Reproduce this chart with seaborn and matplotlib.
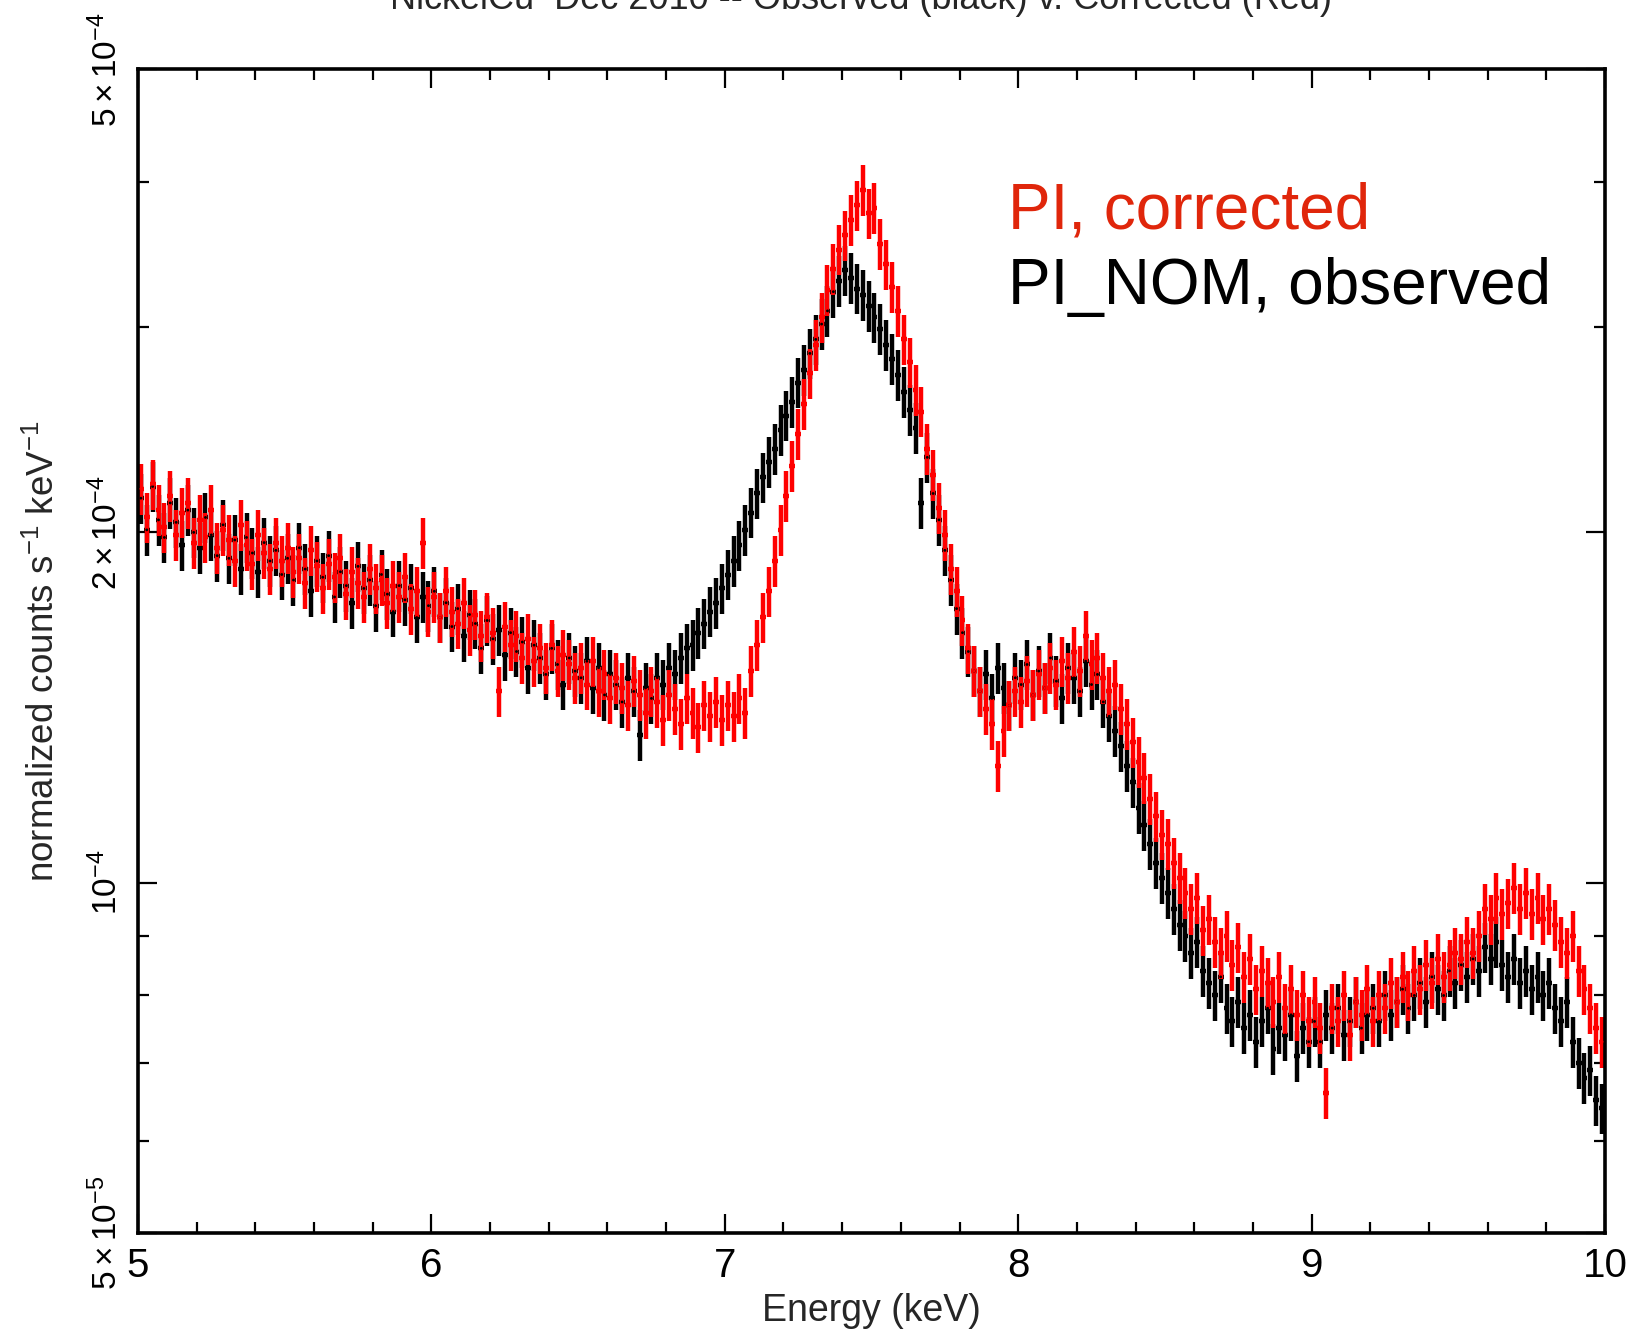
import numpy as np
import pandas as pd
import matplotlib
matplotlib.use("Agg")
import matplotlib.pyplot as plt
import seaborn as sns
from matplotlib.ticker import FixedLocator, NullFormatter, FixedFormatter

# ---------------- data (units of 1e-5 counts s^-1 keV^-1) ----------------
bin_start = 5.0      # keV, lower edge of first bin
bin_width = 0.02     # keV

observed = [
    # 5.0 - 5.5
    21.4, 20.1, 21.9, 20.5, 19.8, 21.2, 20.4, 19.5, 20.9, 20.0, 19.4, 20.6, 19.9,
    19.1, 20.3, 19.0, 19.7, 18.6, 19.8, 19.2, 18.5, 19.6, 18.9, 19.3, 18.4,
    # 5.5 - 6.0
    19.0, 18.2, 19.4, 18.6, 17.8, 18.9, 18.3, 19.1, 17.6, 18.5, 18.0, 17.4, 18.7,
    17.9, 18.2, 17.3, 18.4, 17.7, 17.1, 18.0, 17.5, 17.9, 16.9, 17.6, 17.3,
    # 6.0 - 6.5
    17.8, 16.9, 17.4, 16.6, 17.2, 16.3, 17.0, 16.7, 15.9, 16.8, 16.2, 16.5, 15.7,
    16.4, 15.8, 16.1, 15.3, 16.0, 15.6, 15.1, 15.9, 15.4, 14.8, 15.6, 15.2,
    # 6.5 - 7.0
    15.0, 15.5, 14.7, 15.3, 14.5, 15.1, 14.8, 14.3, 15.0, 14.6, 13.4, 14.7, 14.4,
    15.0, 14.8, 15.3, 15.1, 15.6, 15.9, 16.0, 16.4, 16.7, 17.1, 17.4, 17.9,
    # 7.0 - 7.5
    18.4, 18.9, 19.5, 20.1, 20.8, 21.6, 22.3, 23.0, 23.6, 24.5, 25.2, 25.9, 26.9,
    27.6, 28.5, 29.3, 30.2, 31.0, 32.2, 32.9, 33.6, 33.1, 32.4, 32.0, 31.3,
    # 7.5 - 8.0
    30.6, 29.9, 29.0, 28.2, 27.3, 26.4, 25.5, 24.6, 21.2, 23.2, 21.6, 20.5, 19.3,
    18.2, 17.2, 16.4, 15.8, 15.2, 14.6, 15.1, 14.4, 15.3, 14.7, 14.2, 15.0,
    # 8.0 - 8.5
    14.8, 15.4, 14.5, 15.2, 14.7, 15.6, 14.9, 14.4, 15.3, 15.0, 14.6, 15.5, 14.8,
    15.1, 14.3, 13.9, 13.5, 13.1, 12.6, 12.2, 11.6, 11.2, 10.8, 10.4, 10.1,
    # 8.5 - 9.0
    9.8, 9.5, 9.2, 9.0, 8.7, 8.9, 8.4, 8.2, 8.0, 8.3, 7.8, 7.6, 7.9,
    7.5, 7.7, 7.3, 7.6, 7.8, 7.2, 7.5, 7.4, 7.7, 7.1, 7.5, 7.3,
    # 9.0 - 9.5
    7.6, 7.3, 7.7, 7.5, 7.8, 7.4, 7.6, 7.9, 7.5, 7.7, 7.8, 7.6, 8.0,
    7.7, 7.9, 8.1, 7.8, 8.0, 8.2, 7.9, 8.3, 8.1, 8.0, 8.4, 8.2,
    # 9.5 - 10.0
    8.5, 8.3, 8.6, 8.4, 8.8, 8.6, 8.9, 8.5, 8.3, 8.6, 8.2, 8.4, 8.1,
    8.3, 8.0, 8.2, 7.8, 7.6, 7.9, 7.3, 7.0, 6.8, 6.9, 6.5, 6.4,
]

corrected = [
    # 5.0 - 5.5
    21.8, 20.6, 22.0, 20.9, 20.2, 21.5, 19.9, 20.8, 21.2, 19.6, 20.5, 19.8, 20.9,
    19.4, 20.1, 19.7, 18.9, 20.3, 19.5, 18.8, 19.9, 19.2, 18.6, 19.6, 18.9,
    # 5.5 - 6.0
    19.4, 18.5, 19.0, 18.1, 19.3, 18.7, 17.9, 18.8, 18.3, 19.0, 17.7, 18.5, 18.1,
    17.6, 18.6, 17.9, 18.2, 17.4, 18.0, 17.6, 18.3, 17.2, 17.8, 19.6, 17.1,
    # 6.0 - 6.5
    17.6, 16.9, 17.8, 17.1, 16.7, 17.4, 16.5, 17.0, 16.3, 16.9, 16.4, 14.6, 16.6,
    16.0, 16.3, 15.6, 16.2, 15.5, 15.9, 15.3, 16.0, 15.2, 15.7, 15.4, 15.0,
    # 6.5 - 7.0
    15.3, 14.8, 15.5, 14.6, 15.1, 14.4, 15.0, 14.7, 14.2, 14.9, 14.5, 14.0, 14.6,
    14.3, 13.8, 14.5, 14.1, 13.7, 14.4, 14.0, 13.6, 14.2, 13.9, 14.3, 13.8,
    # 7.0 - 7.5
    14.2, 13.9, 14.4, 14.0, 15.2, 16.0, 16.9, 17.8, 18.9, 20.1, 21.5, 22.8, 24.3,
    25.8, 27.4, 29.0, 30.6, 32.3, 33.7, 35.0, 36.0, 37.1, 38.2, 39.4, 37.6,
    # 7.5 - 8.0
    38.0, 35.4, 34.0, 32.5, 31.0, 29.3, 28.0, 26.5, 25.4, 23.6, 22.4, 21.0, 19.9,
    18.6, 17.8, 16.8, 15.9, 15.2, 14.6, 14.1, 13.7, 12.6, 13.5, 14.2, 14.6,
    # 8.0 - 8.5
    14.3, 14.9, 14.5, 15.1, 14.7, 15.3, 14.8, 15.5, 15.0, 15.8, 15.2, 16.3, 15.4,
    15.6, 15.0, 14.6, 14.8, 14.1, 13.7, 13.2, 12.7, 12.3, 11.8, 11.4, 11.0,
    # 8.5 - 9.0
    10.8, 10.4, 10.1, 9.8, 9.5, 9.7, 9.1, 9.3, 8.9, 8.7, 9.0, 8.5, 8.8,
    8.3, 8.6, 8.1, 8.4, 8.2, 7.9, 8.3, 7.8, 8.1, 7.7, 8.0, 7.6,
    # 9.0 - 9.5
    7.9, 7.5, 6.6, 7.8, 7.6, 8.0, 7.4, 7.9, 7.7, 8.1, 7.6, 8.0, 7.8,
    8.2, 7.9, 8.3, 8.0, 8.4, 8.1, 8.5, 8.2, 8.6, 8.3, 8.5, 8.7,
    # 9.5 - 10.0
    8.6, 8.9, 8.7, 9.0, 9.5, 9.3, 9.7, 9.4, 9.6, 9.9, 9.5, 9.8, 9.4,
    9.7, 9.3, 9.5, 9.2, 8.9, 8.7, 9.0, 8.4, 8.1, 7.8, 7.5, 7.3,
]

rel_err = 0.05   # fractional 1-sigma error of each bin

x_ticks = [5, 6, 7, 8, 9, 10]
x_ticklabels = ["5", "6", "7", "8", "9", "10"]
y_ticks = [5e-5, 1e-4, 2e-4, 5e-4]
y_ticklabels = [r"$5\times10^{-5}$", r"$10^{-4}$", r"$2\times10^{-4}$", r"$5\times10^{-4}$"]
y_minor = [6e-5, 7e-5, 8e-5, 9e-5, 3e-4, 4e-4]

title = "NickelCu  Dec 2010 -- Observed (black) v. Corrected (Red)"
label_red = "PI, corrected"
label_black = "PI_NOM, observed"

# ---------------- build table ----------------
n = len(observed)
energy = bin_start + bin_width * (np.arange(n) + 0.5)
df = pd.concat([
    pd.DataFrame({"energy": energy, "flux": np.array(observed) * 1e-5, "set": "observed"}),
    pd.DataFrame({"energy": energy, "flux": np.array(corrected) * 1e-5, "set": "corrected"}),
], ignore_index=True)

sns.set_theme(style="ticks")
fam = ["Liberation Sans", "DejaVu Sans"]
plt.rcParams["font.family"] = fam
plt.rcParams["mathtext.fontset"] = "custom"
plt.rcParams["mathtext.rm"] = "Liberation Sans"
plt.rcParams["mathtext.it"] = "Liberation Sans"
plt.rcParams["mathtext.default"] = "regular"

fig = plt.figure(figsize=(16.27, 13.32), dpi=100)
ax = fig.add_axes([0.0848, 0.0743, 0.9017, 0.8737])

colors = {"observed": "#000000", "corrected": "#ff0000"}
for key in ["observed", "corrected"]:
    d = df[df["set"] == key]
    ax.errorbar(d["energy"], d["flux"], xerr=bin_width / 2, yerr=d["flux"] * rel_err,
                fmt="none", ecolor=colors[key], elinewidth=3.2, capsize=0, zorder=2)
sns.scatterplot(data=df, x="energy", y="flux", hue="set", palette=colors,
                s=4, linewidth=0, legend=False, ax=ax, zorder=3)

ax.set_yscale("log")
ax.set_xlim(5, 10)
ax.set_ylim(5e-5, 5e-4)

ax.xaxis.set_major_locator(FixedLocator(x_ticks))
ax.xaxis.set_major_formatter(FixedFormatter(x_ticklabels))
ax.xaxis.set_minor_locator(FixedLocator(np.arange(5, 10.01, 0.2)))
ax.yaxis.set_major_locator(FixedLocator(y_ticks))
ax.yaxis.set_major_formatter(FixedFormatter(y_ticklabels))
ax.yaxis.set_minor_locator(FixedLocator(y_minor))
ax.yaxis.set_minor_formatter(NullFormatter())

ax.tick_params(which="both", direction="in", top=True, right=True, width=1.6, colors="black")
ax.tick_params(which="major", length=14)
ax.tick_params(which="minor", length=8)
ax.tick_params(axis="x", labelsize=29, pad=10)
ax.tick_params(axis="y", labelsize=24, pad=10)
for lab in ax.get_yticklabels():
    lab.set_rotation(90)
    lab.set_va("center")
for sp in ax.spines.values():
    sp.set_linewidth(2.6)
    sp.set_color("black")

ax.set_xlabel("Energy (keV)", fontsize=27, labelpad=6)
ax.set_ylabel(r"normalized counts s$^{-1}$ keV$^{-1}$", fontsize=26.5, labelpad=20)

fig.text(0.529, 1 - 9 / 1332, title, ha="center", va="baseline", fontsize=26)

ax.text(0.593, 0.8635, label_red, transform=ax.transAxes, color="#e0260b", fontsize=46)
ax.text(0.593, 0.798, label_black, transform=ax.transAxes, color="black", fontsize=46)

fig.savefig("out.png", dpi=100)
